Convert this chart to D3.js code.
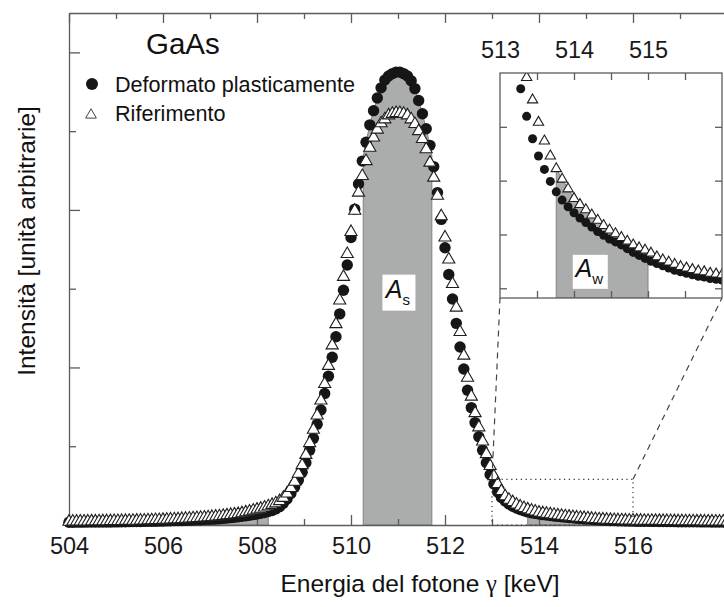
<!DOCTYPE html>
<html>
<head>
<meta charset="utf-8">
<script src="https://cdn.jsdelivr.net/npm/d3@7"></script>
<style>
  body { margin: 0; background: #fff; }
  text { font-family: "Liberation Sans", Arial, sans-serif; }
</style>
</head>
<body>
<script>
// General constants
const WIDTH = 724;
const HEIGHT = 607;

// Channel calibration of the spectra (keV)
const energyStart = 504.0;
const energyStep = 0.08;

// Intensity, arbitrary units, one value per channel
const deformato = [
  3.5,3.5,3.6,3.6,3.6,3.7,3.7,3.8,3.8,3.8,
  3.9,3.9,4.0,4.0,4.1,4.2,4.3,4.4,4.5,4.5,
  4.6,4.7,4.8,4.8,4.9,5.0,5.2,5.3,5.5,5.6,
  5.8,6.0,6.1,6.3,6.5,6.7,6.9,7.1,7.4,7.7,
  8.0,8.4,8.8,9.3,9.9,10.5,11.1,11.7,12.4,13.2,
  14.0,14.8,15.9,17.1,18.5,20.5,23.3,27.5,33,40,
  48,57,67,79,95,110,128,146,167,189,
  213,239,268,298,330,365,401,433,462,486,
  508,526,542,555,565,570,573,575,
  575,573,570,564,554,539,522,503,482,455,422,388,
  352,318,287,256,226,198,171,149,130,112,
  95,79,64,52,42,35,30.5,26.8,23.8,21.5,
  19.7,18.1,16.7,15.6,14.7,13.9,13.2,12.6,12.0,11.4,
  10.9,10.4,10.0,9.6,9.1,8.6,8.2,7.8,7.4,7.1,
  6.8,6.5,6.2,6.0,5.8,5.6,5.4,5.3,5.1,5.0,
  4.9,4.8,4.8,4.7,4.7,4.6,4.6,4.5,4.5,4.4,
  4.4,4.3,4.2,4.2,4.2,4.1,4.1,4.1,4.0,4.0,
  4.0,3.9,3.9,3.9,3.8,3.8
];

const riferimento = [
  4.2,4.3,4.3,4.4,4.4,4.5,4.6,4.6,4.7,4.8,
  4.8,4.9,5.0,5.0,5.1,5.2,5.3,5.4,5.5,5.6,
  5.7,5.9,6.0,6.2,6.3,6.5,6.7,7.0,7.2,7.4,
  7.7,8.0,8.2,8.5,8.8,9.1,9.4,9.8,10.2,10.6,
  11.0,11.6,12.2,12.8,13.4,14.0,15.0,16.0,17.0,18.3,
  19.5,20.7,22.2,23.8,25.5,27.5,30.3,34.5,40,47,
  55,65,76,89,104,121,139,158,179,202,
  228,255,285,315,344,372,399,422,443,462,
  479,492,502,510,515,520,522,523,
  523,522,520,515,509,500,490,477,460,441,418,392,
  365,337,306,276,245,215,187,163,142,124,
  106,90,75,62,52,43,36.5,32,29,26,
  23.5,21.5,19.8,18.4,17.1,15.8,15.0,14.3,13.6,12.9,
  12.2,11.6,11.1,10.6,10.1,9.6,9.2,8.9,8.5,8.0,
  7.6,7.3,7.0,6.7,6.5,6.3,6.1,6.0,5.8,5.7,
  5.6,5.5,5.5,5.4,5.3,5.3,5.2,5.2,5.1,5.1,
  5.0,4.9,4.8,4.8,4.7,4.7,4.7,4.6,4.6,4.5,
  4.5,4.5,4.4,4.4,4.3,4.3
];

// Ticks and windows
const xMajorTicks = [504, 506, 508, 510, 512, 514, 516];
const xMinorTicks = [505, 507, 509, 511, 513, 515, 517];
const yMajorTicks = [0, 200, 400, 600];
const yMinorTicks = [100, 300, 500];
const insetTickLabels = [513, 514, 515];
const insetXTicks = [513.5, 514, 514.5, 515, 515.5];
const insetYTicks = [3.8, 11.0, 18.2, 25.4];

const peakWindow = [510.26, 511.72];             // A_s
const wingWindows = [[507.0, 508.24], [513.76, 515.0]]; // A_w
const zoomWindow = {e0: 513, e1: 516, v0: 0, v1: 58};

const axisColor = "#5b5b5b";
const textColor = "#1a1a1a";
const bandFill = "#abadad";

const points = deformato.map((c, i) => ({
  e: +(energyStart + i * energyStep).toFixed(2),
  c: c,
  t: riferimento[i]
}));

const svg = d3.select("body").append("svg")
  .attr("width", WIDTH)
  .attr("height", HEIGHT);

const x = d3.scaleLinear().domain([504, 518]).range([69, 727]);
const y = d3.scaleLinear().domain([0, 650]).range([525, 13]);

/** value of the upper curve at an arbitrary energy (for the band edges) */
function topAt(e) {
  let i = Math.floor((e - energyStart) / energyStep);
  i = Math.max(0, Math.min(i, points.length - 2));
  const p0 = points[i], p1 = points[i + 1];
  const f = (e - p0.e) / (p1.e - p0.e);
  return Math.max(p0.c, p0.t) * (1 - f) + Math.max(p1.c, p1.t) * f;
}

function bandPoints(lo, hi) {
  const inner = points.filter(p => p.e > lo && p.e < hi)
                      .map(p => [p.e, Math.max(p.c, p.t)]);
  return [[lo, topAt(lo)], ...inner, [hi, topAt(hi)]];
}

function styleAxis(g, fontSize) {
  g.select(".domain").attr("stroke", axisColor).attr("stroke-width", 1.3);
  g.selectAll(".tick line").attr("stroke", axisColor).attr("stroke-width", 1.3);
  g.selectAll(".tick text")
    .attr("font-size", fontSize || 23)
    .attr("font-family", '"Liberation Sans", Arial, sans-serif')
    .attr("fill", textColor);
}

/** ---- shaded windows ---- */
const mainArea = d3.area()
  .x(d => x(d[0]))
  .y0(y(0))
  .y1(d => y(d[1]));

[peakWindow, ...wingWindows].forEach(w => {
  svg.append("path")
    .attr("d", mainArea(bandPoints(w[0], w[1])))
    .attr("fill", bandFill)
    .attr("stroke", "#808080")
    .attr("stroke-width", 1);
});

/** ---- axes of the main plot ---- */
svg.append("g")
  .attr("transform", `translate(0,${y(0)})`)
  .call(d3.axisBottom(x).tickValues(xMajorTicks).tickSizeInner(-10).tickSizeOuter(0)
          .tickPadding(12).tickFormat(d3.format("d")))
  .call(g => styleAxis(g, 23.5));

svg.append("g")
  .attr("transform", `translate(0,${y(0)})`)
  .call(d3.axisBottom(x).tickValues(xMinorTicks).tickSizeInner(-6).tickSizeOuter(0).tickFormat(""))
  .call(g => g.select(".domain").remove())
  .call(g => styleAxis(g));

svg.append("g")
  .attr("transform", `translate(0,${y.range()[1]})`)
  .call(d3.axisTop(x).tickValues(xMajorTicks).tickSizeInner(-10).tickSizeOuter(0).tickFormat(""))
  .call(g => styleAxis(g));

svg.append("g")
  .attr("transform", `translate(0,${y.range()[1]})`)
  .call(d3.axisTop(x).tickValues(xMinorTicks).tickSizeInner(-6).tickSizeOuter(0).tickFormat(""))
  .call(g => g.select(".domain").remove())
  .call(g => styleAxis(g));

svg.append("g")
  .attr("transform", `translate(${x(504)},0)`)
  .call(d3.axisLeft(y).tickValues(yMajorTicks).tickSizeInner(-11).tickSizeOuter(0).tickFormat(""))
  .call(g => styleAxis(g));

svg.append("g")
  .attr("transform", `translate(${x(504)},0)`)
  .call(d3.axisLeft(y).tickValues(yMinorTicks).tickSizeInner(-7).tickSizeOuter(0).tickFormat(""))
  .call(g => g.select(".domain").remove())
  .call(g => styleAxis(g));

/** ---- markers ---- */
function drawMarkers(parent, sx, sy, r, triSize) {
  parent.append("g").selectAll("circle")
    .data(points)
    .join("circle")
    .attr("cx", d => sx(d.e))
    .attr("cy", d => sy(d.c))
    .attr("r", r)
    .attr("fill", "#161616");

  const tri = d3.symbol(d3.symbolTriangle, triSize);
  parent.append("g").selectAll("path")
    .data(points)
    .join("path")
    .attr("d", tri)
    .attr("transform", d => `translate(${sx(d.e)},${sy(d.t)})`)
    .attr("fill", "#fff")
    .attr("stroke", "#1e1e1e")
    .attr("stroke-width", 1.1);
}

drawMarkers(svg, x, y, 5.7, 64);

/** ---- zoom window + connectors ---- */
const inset = {left: 500, right: 722, top: 73, bottom: 298};
const xi = d3.scaleLinear().domain([513, 516]).range([inset.left, inset.right]);
const yi = d3.scaleLinear().domain([2.5, 32.6]).range([inset.bottom, inset.top]);

svg.append("rect")
  .attr("x", x(zoomWindow.e0))
  .attr("y", y(zoomWindow.v1))
  .attr("width", x(zoomWindow.e1) - x(zoomWindow.e0))
  .attr("height", y(zoomWindow.v0) - y(zoomWindow.v1))
  .attr("fill", "none")
  .attr("stroke", "#333")
  .attr("stroke-width", 1.2)
  .attr("stroke-dasharray", "1.2,3.6");

[[zoomWindow.e0, 513], [zoomWindow.e1, 516]].forEach(([e, ei]) => {
  svg.append("line")
    .attr("x1", x(e)).attr("y1", y(zoomWindow.v1))
    .attr("x2", xi(ei)).attr("y2", yi.range()[0])
    .attr("stroke", "#444")
    .attr("stroke-width", 1.2)
    .attr("stroke-dasharray", "6,5");
});

/** ---- inset ---- */
const insetG = svg.append("g");
insetG.append("rect")
  .attr("x", inset.left).attr("y", inset.top)
  .attr("width", inset.right - inset.left)
  .attr("height", inset.bottom - inset.top)
  .attr("fill", "#fff");

svg.append("clipPath").attr("id", "insetClip")
  .append("rect")
  .attr("x", inset.left).attr("y", inset.top)
  .attr("width", inset.right - inset.left)
  .attr("height", inset.bottom - inset.top);

const insetBody = insetG.append("g").attr("clip-path", "url(#insetClip)");

const insetArea = d3.area()
  .x(d => xi(d[0]))
  .y0(yi.range()[0])
  .y1(d => yi(d[1]));

insetBody.append("path")
  .attr("d", insetArea(bandPoints(wingWindows[1][0], wingWindows[1][1])))
  .attr("fill", bandFill)
  .attr("stroke", "#808080")
  .attr("stroke-width", 1);

drawMarkers(insetBody, xi, yi, 4.5, 46);

insetG.append("rect")
  .attr("x", inset.left).attr("y", inset.top)
  .attr("width", inset.right - inset.left)
  .attr("height", inset.bottom - inset.top)
  .attr("fill", "none")
  .attr("stroke", axisColor)
  .attr("stroke-width", 1.3);

insetG.append("g")
  .attr("transform", `translate(0,${inset.top})`)
  .call(d3.axisTop(xi).tickValues(insetXTicks).tickSizeInner(-7).tickSizeOuter(0).tickFormat(""))
  .call(g => g.select(".domain").remove())
  .call(g => styleAxis(g));

insetG.append("g")
  .attr("transform", `translate(0,${inset.bottom})`)
  .call(d3.axisBottom(xi).tickValues(insetXTicks).tickSizeInner(-7).tickSizeOuter(0).tickFormat(""))
  .call(g => g.select(".domain").remove())
  .call(g => styleAxis(g));

insetG.append("g")
  .attr("transform", `translate(${inset.left},0)`)
  .call(d3.axisLeft(yi).tickValues(insetYTicks).tickSizeInner(-7).tickSizeOuter(0).tickFormat(""))
  .call(g => g.select(".domain").remove())
  .call(g => styleAxis(g));

insetG.append("g")
  .attr("transform", `translate(${inset.right},0)`)
  .call(d3.axisRight(yi).tickValues(insetYTicks).tickSizeInner(-7).tickSizeOuter(0).tickFormat(""))
  .call(g => g.select(".domain").remove())
  .call(g => styleAxis(g));

insetG.append("g")
  .attr("transform", `translate(0,${inset.top})`)
  .call(d3.axisTop(xi).tickValues(insetTickLabels).tickSize(0).tickPadding(15).tickFormat(d3.format("d")))
  .call(g => g.select(".domain").remove())
  .call(g => g.selectAll(".tick line").remove())
  .call(g => styleAxis(g, 23.5));

/** ---- A_s and A_w labels ---- */
function areaLabel(cx, cy, w, h, sub) {
  svg.append("rect")
    .attr("x", cx - w / 2).attr("y", cy - h / 2)
    .attr("width", w).attr("height", h)
    .attr("fill", "#fff");
  const t = svg.append("text")
    .attr("x", cx - 1).attr("y", cy + 5)
    .attr("text-anchor", "middle")
    .attr("fill", "#111");
  t.append("tspan").attr("font-style", "italic").attr("font-size", 25).text("A");
  t.append("tspan").attr("font-size", 15).attr("dy", 7).text(sub);
}
areaLabel(x(511.02), y(295), 33, 36, "s");
areaLabel(xi(514.22), yi(6.0), 35, 34, "w");

/** ---- texts and legend ---- */
svg.append("text")
  .attr("x", 146).attr("y", 54)
  .attr("font-size", 29.5)
  .attr("fill", "#111")
  .text("GaAs");

svg.append("circle")
  .attr("cx", 92).attr("cy", 84).attr("r", 6)
  .attr("fill", "#161616");
svg.append("text")
  .attr("x", 115).attr("y", 92)
  .attr("font-size", 21.6).attr("fill", "#111")
  .text("Deformato plasticamente");

svg.append("path")
  .attr("d", d3.symbol(d3.symbolTriangle, 50))
  .attr("transform", "translate(91,115)")
  .attr("fill", "#fff")
  .attr("stroke", "#444")
  .attr("stroke-width", 1);
svg.append("text")
  .attr("x", 115).attr("y", 121)
  .attr("font-size", 21.6).attr("fill", "#111")
  .text("Riferimento");

const xTitle = svg.append("text")
  .attr("x", 420).attr("y", 592)
  .attr("text-anchor", "middle")
  .attr("font-size", 24.5).attr("fill", "#111");
xTitle.append("tspan").text("Energia del fotone ");
xTitle.append("tspan").attr("font-family", '"Liberation Serif", serif').text("γ");
xTitle.append("tspan").text(" [keV]");

svg.append("text")
  .attr("transform", "translate(35,241) rotate(-90)")
  .attr("text-anchor", "middle")
  .attr("font-size", 24.5).attr("fill", "#111")
  .text("Intensità [unità arbitrarie]");
</script>
</body>
</html>
